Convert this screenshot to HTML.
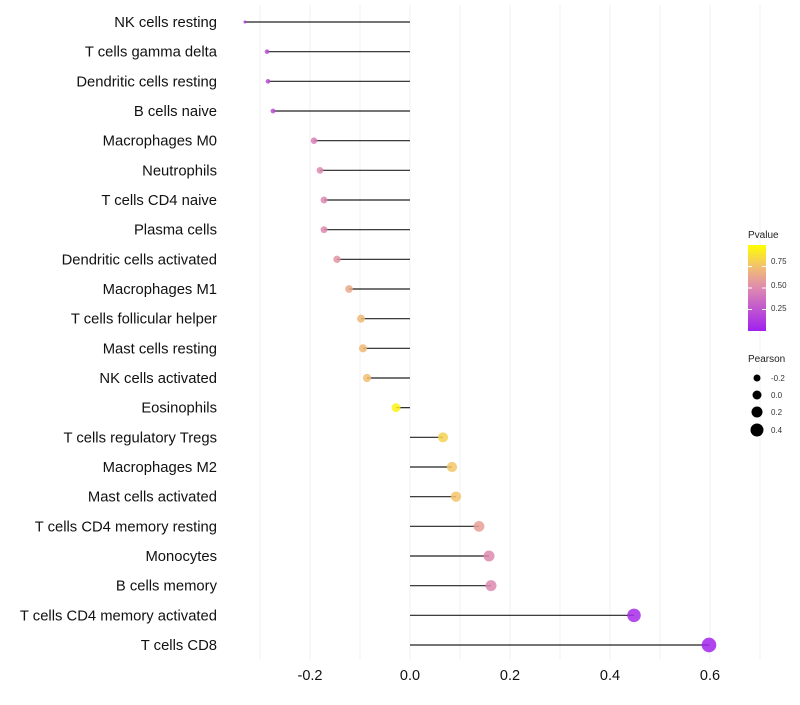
<!DOCTYPE html>
<html><head><meta charset="utf-8"><style>
body{margin:0;background:#fff;}
svg{font-family:"Liberation Sans",sans-serif;}
</style></head><body>
<svg id="chart" width="800" height="700" viewBox="0 0 800 700">
<defs><linearGradient id="pg" x1="0" y1="1" x2="0" y2="0">
<stop offset="0" stop-color="#a020f0"/><stop offset="0.5" stop-color="#de8ab0"/><stop offset="0.75" stop-color="#f2c070"/><stop offset="1" stop-color="#ffff00"/></linearGradient></defs>
<g id="grid"></g>
<g id="marks"></g>
<g id="axes"></g>
<g>
<text x="748" y="238" font-size="10" fill="#222">Pvalue</text>
<rect x="748" y="245" width="18" height="86" fill="url(#pg)"/>
<line x1="748" x2="752" y1="266.5" y2="266.5" stroke="#fff"/><line x1="762" x2="766" y1="266.5" y2="266.5" stroke="#fff"/>
<line x1="748" x2="752" y1="288" y2="288" stroke="#fff"/><line x1="762" x2="766" y1="288" y2="288" stroke="#fff"/>
<line x1="748" x2="752" y1="309.5" y2="309.5" stroke="#fff"/><line x1="762" x2="766" y1="309.5" y2="309.5" stroke="#fff"/>
<text x="771" y="264" font-size="8" fill="#333">0.75</text>
<text x="771" y="288" font-size="8" fill="#333">0.50</text>
<text x="771" y="311" font-size="8" fill="#333">0.25</text>
</g>
<g>
<text x="748" y="362" font-size="10" fill="#222">Pearson</text>
<circle cx="757" cy="378" r="3.5" fill="#000"/><text x="771" y="381" font-size="8" fill="#333">-0.2</text>
<circle cx="757" cy="395" r="4.5" fill="#000"/><text x="771" y="398" font-size="8" fill="#333">0.0</text>
<circle cx="757" cy="412" r="5.5" fill="#000"/><text x="771" y="415" font-size="8" fill="#333">0.2</text>
<circle cx="757" cy="430" r="6.5" fill="#000"/><text x="771" y="433" font-size="8" fill="#333">0.4</text>
</g>
</svg>
<script>
const categories=["NK cells resting","T cells gamma delta","Dendritic cells resting","B cells naive","Macrophages M0","Neutrophils","T cells CD4 naive","Plasma cells","Dendritic cells activated","Macrophages M1","T cells follicular helper","Mast cells resting","NK cells activated","Eosinophils","T cells regulatory  Tregs ","Macrophages M2","Mast cells activated","T cells CD4 memory resting","Monocytes","B cells memory","T cells CD4 memory activated","T cells CD8"];
const pearson=[-0.33,-0.286,-0.284,-0.274,-0.192,-0.18,-0.172,-0.172,-0.146,-0.122,-0.098,-0.094,-0.086,-0.028,0.066,0.084,0.092,0.138,0.158,0.162,0.448,0.598];
const pvalue=[0.1,0.2,0.2,0.22,0.45,0.5,0.5,0.5,0.55,0.65,0.72,0.72,0.75,0.95,0.82,0.77,0.76,0.6,0.5,0.5,0.05,0.02];
const xTicks=[-0.2,0,0.2,0.4,0.6];
const xTickLabels=["-0.2","0.0","0.2","0.4","0.6"];
const NS="http://www.w3.org/2000/svg";
const x=v=>410+v*500;
const y=i=>22+i*(623/(categories.length-1));
const r=v=>0.5+7*Math.sqrt(Math.max(v+0.35,0));
function lerp(a,b,t){return a.map((c,k)=>Math.round(c+(b[k]-c)*t));}
function color(p){const s=[[0,[160,32,240]],[0.5,[222,138,176]],[0.75,[242,192,112]],[1,[255,255,0]]];
for(let k=1;k<s.length;k++){if(p<=s[k][0]){const t=(p-s[k-1][0])/(s[k][0]-s[k-1][0]);return "rgb("+lerp(s[k-1][1],s[k][1],t).join(",")+")";}}return "rgb(255,255,0)";}
function mk(tag,attrs,parent){const e=document.createElementNS(NS,tag);for(const k in attrs)e.setAttribute(k,attrs[k]);parent.appendChild(e);return e;}
const grid=document.getElementById('grid'),marks=document.getElementById('marks'),axes=document.getElementById('axes');
for(let v=-0.3;v<=0.71;v+=0.1){const g=mk('line',{x1:x(v),x2:x(v),y1:5,y2:660,stroke:'#f2f2f2','stroke-width':1},grid);

}
categories.forEach((c,i)=>{
const t=mk('text',{x:217,y:y(i)+5,'text-anchor':'end','font-size':14.8,fill:'#111'},axes);t.textContent=c;


const l=mk('line',{x1:x(0),x2:x(pearson[i]),y1:y(i),y2:y(i),stroke:'#222','stroke-width':1.2},marks);


const p=mk('circle',{cx:x(pearson[i]),cy:y(i),r:r(pearson[i]),fill:color(pvalue[i]),'fill-opacity':0.85},marks);


});
xTicks.forEach((v,i)=>{const t=mk('text',{x:x(v),y:680,'text-anchor':'middle','font-size':14.5,fill:'#111'},axes);t.textContent=xTickLabels[i];

});
</script>
</body></html>
